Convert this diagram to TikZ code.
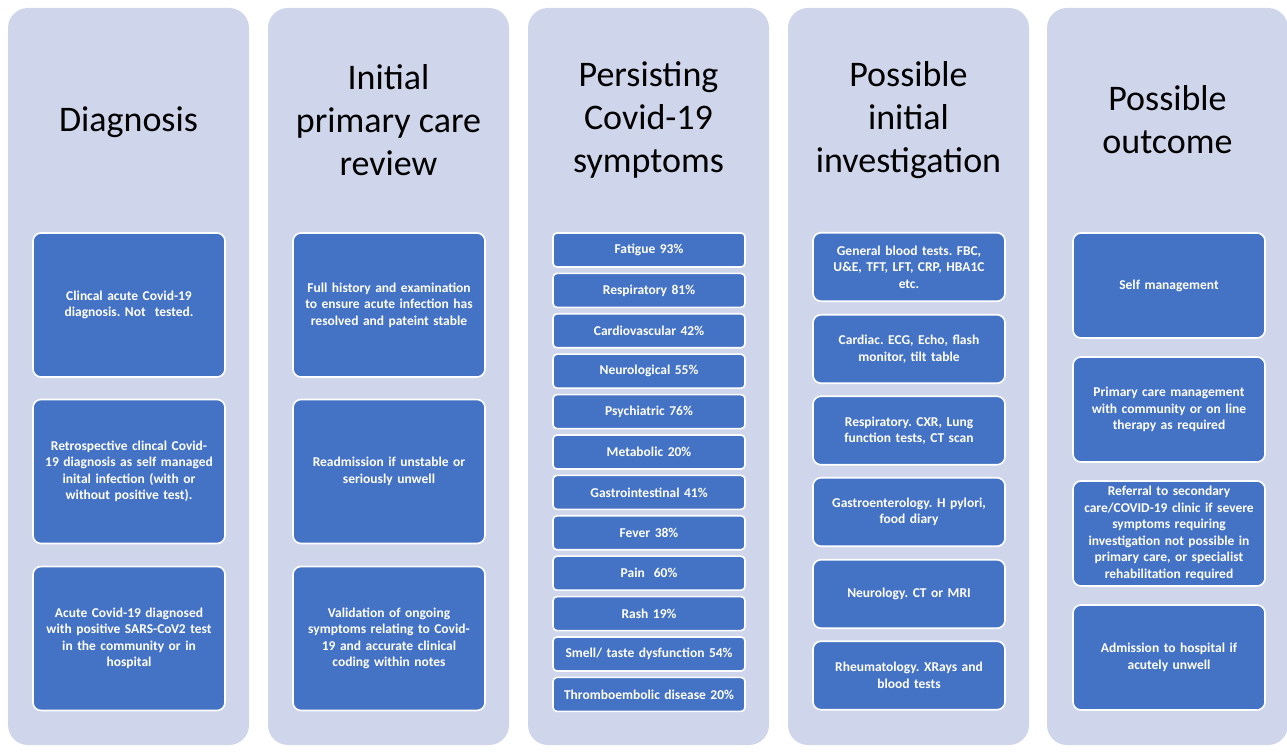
\documentclass[tikz,border=0pt]{standalone}
\usepackage{fontspec}
\setmainfont{Carlito}
\usetikzlibrary{positioning}
\definecolor{panelgrey}{HTML}{CFD5EA}
\definecolor{boxblue}{HTML}{4472C4}
\frenchspacing

\begin{document}
\begin{tikzpicture}[x=1pt,y=1pt,
  panel/.style={fill=panelgrey, rounded corners=20pt},
  head/.style={align=center, font=\fontsize{36}{43}\selectfont},
  card/.style={fill=boxblue, draw=white, line width=1.6pt, rounded corners=8pt,
    text=white, align=center, font=\fontsize{13.5}{16.5}\selectfont\bfseries,
    minimum width=192pt, text width=186pt, inner sep=0pt},
  bigcard/.style={card, minimum height=144pt},
  symcard/.style={card, minimum height=34pt, rounded corners=4pt},
  invcard/.style={card, minimum height=68.5pt},
  outcard/.style={card, minimum height=105pt}]

\useasboundingbox (0,0) rectangle (1287,752);

\fill[panel] (8,7) rectangle (249,744);
\fill[panel] (268,7) rectangle (509,744);
\fill[panel] (528,7) rectangle (769,744);
\fill[panel] (788,7) rectangle (1029,744);
\fill[panel] (1047,7) rectangle (1288,744);

\node[head] (h1) at (128.5,630) {Diagnosis};
\node[head] (h2) at (388.5,632) {Initial\\primary care\\review};
\node[head] (h3) at (648.5,632) {Persisting\\Covid-19\\symptoms};
\node[head] (h4) at (908.5,632) {Possible\\initial\\investigation};
\node[head] (h5) at (1167.5,632) {Possible\\outcome};

\node[bigcard] (d1) at (129,447) {Clincal acute Covid-19\\diagnosis. Not\ \ tested.};
\node[bigcard] (d2) at (129,280.5) {Retrospective clincal Covid-\\19 diagnosis as self managed\\inital infection (with or\\without positive test).};
\node[bigcard] (d3) at (129,113.5) {Acute Covid-19 diagnosed\\with positive SARS-CoV2 test\\in the community or in\\hospital};

\node[bigcard] (r1) at (389,447) {Full history and examination\\to ensure acute infection has\\resolved and pateint stable\\[12pt]};
\node[bigcard] (r2) at (389,280.5) {Readmission if unstable or\\seriously unwell};
\node[bigcard] (r3) at (389,113.5) {Validation of ongoing\\symptoms relating to Covid-\\19 and accurate clinical\\coding within notes};

\node[symcard] (s1) at (649,502) {Fatigue 93\%};
\node[symcard] (s2) at (649,461.6) {Respiratory 81\%};
\node[symcard] (s3) at (649,421.2) {Cardiovascular 42\%};
\node[symcard] (s4) at (649,380.8) {Neurological 55\%};
\node[symcard] (s5) at (649,340.4) {Psychiatric 76\%};
\node[symcard] (s6) at (649,300) {Metabolic 20\%};
\node[symcard] (s7) at (649,259.6) {Gastrointestinal 41\%};
\node[symcard] (s8) at (649,219.2) {Fever 38\%};
\node[symcard] (s9) at (649,178.8) {Pain\ \ 60\%};
\node[symcard] (s10) at (649,138.4) {Rash 19\%};
\node[symcard] (s11) at (649,98) {Smell/ taste dysfunction 54\%};
\node[symcard] (s12) at (649,57.6) {Thromboembolic disease 20\%};

\node[invcard] (i1) at (909,485) {General blood tests. FBC,\\U\&E, TFT, LFT, CRP, HBA1C\\etc.};
\node[invcard] (i2) at (909,403) {Cardiac. ECG, Echo, flash\\monitor, tilt table};
\node[invcard] (i3) at (909,321.5) {Respiratory. CXR, Lung\\function tests, CT scan};
\node[invcard] (i4) at (909,240) {Gastroenterology. H pylori,\\food diary};
\node[invcard] (i5) at (909,158) {Neurology. CT or MRI};
\node[invcard] (i6) at (909,76.5) {Rheumatology. XRays and\\blood tests};

\node[outcard] (o1) at (1169,466.5) {Self management};
\node[outcard] (o2) at (1169,342.5) {Primary care management\\with community or on line\\therapy as required};
\node[outcard] (o3) at (1169,218.5) {Referral to secondary\\care/COVID-19 clinic if severe\\symptoms requiring\\investigation not possible in\\primary care, or specialist\\rehabilitation required};
\node[outcard] (o4) at (1169,94.5) {Admission to hospital if\\acutely unwell};
\end{tikzpicture}
\end{document}
